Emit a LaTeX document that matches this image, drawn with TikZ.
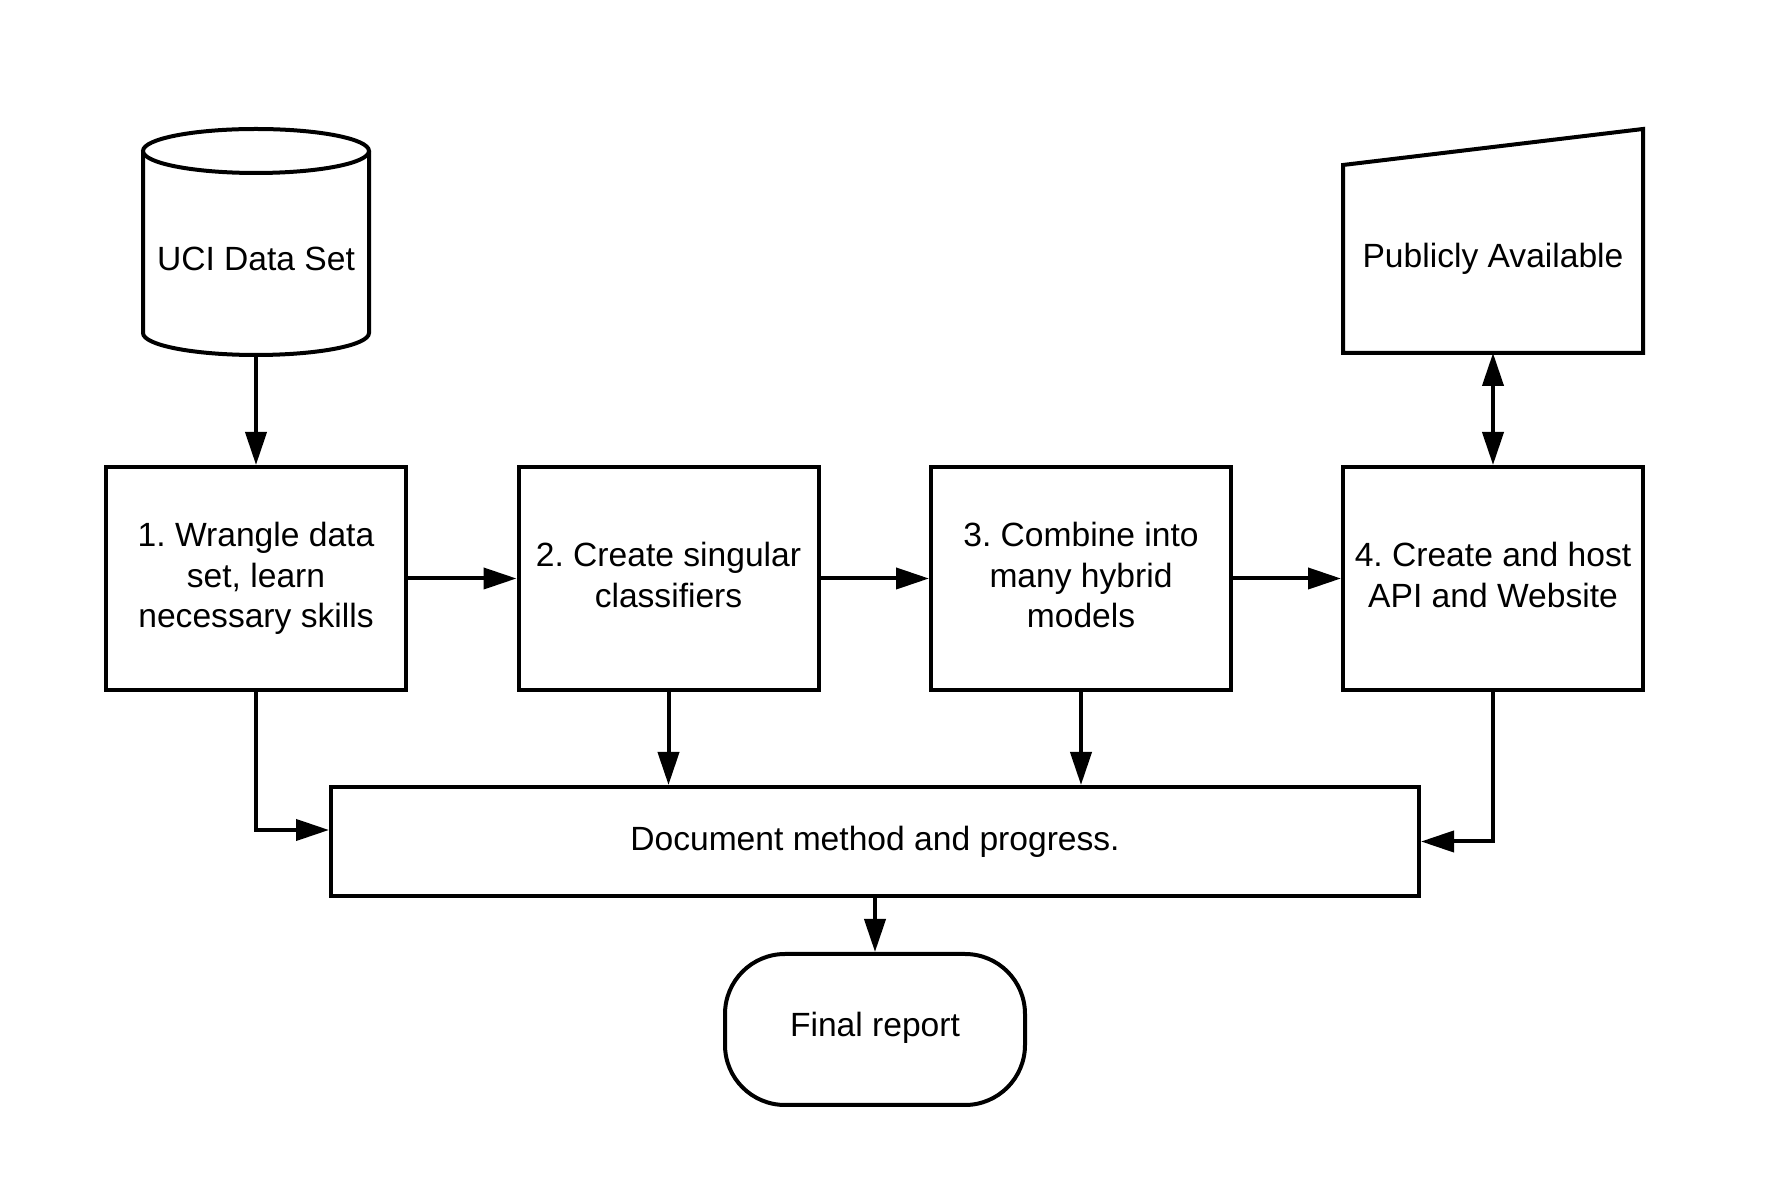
\documentclass[tikz,border=0pt]{standalone}
\usepackage{fontspec}
\setmainfont{Liberation Sans}
\usetikzlibrary{arrows.meta,calc}
\begin{document}
\frenchspacing
\begin{tikzpicture}[x=0.5pt,y=0.5pt,
  every node/.style={font=\fontsize{16.8}{20.4}\selectfont, align=center, inner sep=1pt},
  stepbox/.style={draw, line width=2pt, minimum width=150pt, minimum height=111.5pt},
  docbox/.style={draw, line width=2pt, minimum width=544pt, minimum height=54.5pt},
  termbox/.style={draw, line width=2pt, minimum width=150pt, minimum height=75.5pt, rounded corners=30pt},
  shapeline/.style={draw, line width=2pt, line join=miter, fill=white},
  conn/.style={line width=2pt, -{Triangle[length=16.5pt,width=10.5pt]}},
  dconn/.style={line width=2pt, {Triangle[length=16.5pt,width=10.5pt]}-{Triangle[length=16.5pt,width=10.5pt]}}
]
\useasboundingbox[fill=white] (0,0) rectangle (1774,1179);

% cylinder
\path[shapeline] (143,1028) -- (143,846) arc[start angle=180,end angle=360,x radius=113,y radius=22] -- (369,1028);
\path[shapeline] (256,1028) ellipse [x radius=113, y radius=22];
\node (cyl) at (256,920) {UCI Data Set};
\coordinate (cylb) at (256,824);

% publicly available
\path[shapeline] (1343,826) -- (1343,1014) -- (1643,1050) -- (1643,826) -- cycle;
\node (pub) at (1493,920.5) {Publicly Available};
\coordinate (pubb) at (1493,826);

% steps
\node[stepbox] (b1) at (256,600.5) {};
\node[stepbox] (b2) at (668.5,600.5) {};
\node[stepbox] (b3) at (1081,600.5) {};
\node[stepbox] (b4) at (1493,600.5) {};
\node (b1t) at (b1.center) {1. Wrangle data\\set, learn\\necessary skills};
\node (b2t) at ([yshift=1.7pt]b2.center) {2. Create singular\\classifiers};
\node (b3t) at ([yshift=1.7pt]b3.center) {3. Combine into\\many hybrid\\models};
\node (b4t) at ([yshift=1.7pt]b4.center) {4. Create and host\\API and Website};

\node[docbox] (doc) at (875,337.5) {};
\node (doct) at (doc.center) {Document method and progress.};
\node[termbox] (fin) at (875,149.5) {};
\node (fint) at ([yshift=0.6pt]fin.center) {Final report};

% connectors
\draw[conn] (cylb) -- (b1.north);
\draw[conn] (b1.east) -- (b2.west);
\draw[conn] (b2.east) -- (b3.west);
\draw[conn] (b3.east) -- (b4.west);
\draw[dconn] (pubb) -- (b4.north);
\draw[conn] (b1.south) |- ([yshift=5.75pt]doc.west);
\draw[conn] (b2.south) -- (b2.south |- doc.north);
\draw[conn] (b3.south) -- (b3.south |- doc.north);
\draw[conn] (b4.south) |- (doc.east);
\draw[conn] (doc.south) -- (fin.north);
\end{tikzpicture}
\end{document}
